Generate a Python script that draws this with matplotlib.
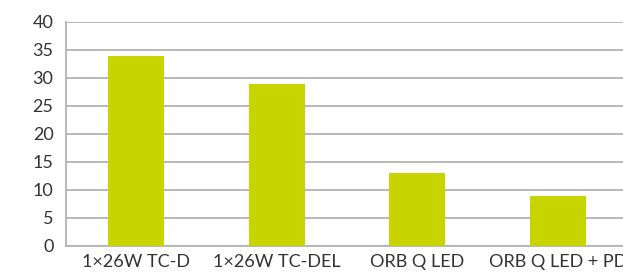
import matplotlib
matplotlib.use("Agg")
import matplotlib.pyplot as plt

categories = ["1×26W TC-D", "1×26W TC-DEL", "ORB Q LED", "ORB Q LED + PD"]
values = [34, 29, 13, 9]
yticks = [0, 5, 10, 15, 20, 25, 30, 35, 40]

plt.rcParams['font.family'] = ['Lato', 'DejaVu Sans']

W, H = 623, 273
fig = plt.figure(figsize=(W/100, H/100), dpi=100)
ax = fig.add_axes([66/W, 27/H, 562/W, 224/H])

x = range(len(categories))
ax.bar(x, values, width=0.4, color="#c8d400", zorder=3)
ax.set_xlim(-0.5, len(categories) - 0.5)
ax.set_ylim(0, 40)
ax.set_yticks(yticks)
ax.set_xticks(list(x))
ax.set_xticklabels(categories)
ax.yaxis.grid(True, color="#b3b3b3", linewidth=1.3, zorder=0)
ax.set_axisbelow(True)
for s in ["top", "right"]:
    ax.spines[s].set_visible(False)
for s in ["left", "bottom"]:
    ax.spines[s].set_color("#b3b3b3")
    ax.spines[s].set_linewidth(1.3)
ax.tick_params(axis="both", length=0, labelsize=13, colors="#333333")
ax.tick_params(axis="y", pad=9)
ax.tick_params(axis="x", pad=6)

fig.savefig("out.png", dpi=100)
